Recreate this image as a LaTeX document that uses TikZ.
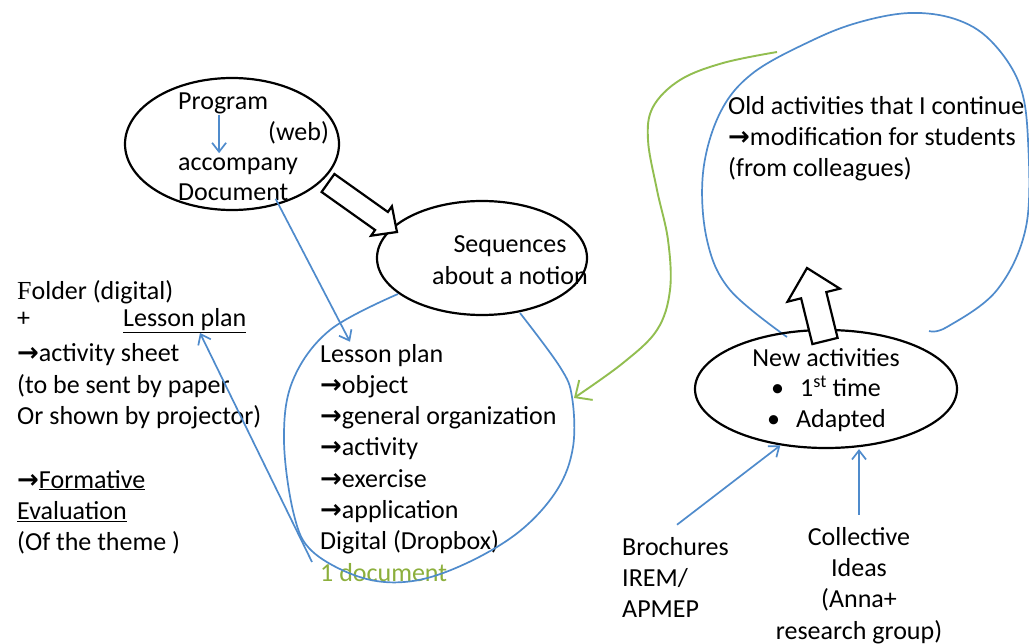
\documentclass[tikz,border=0pt]{standalone}
\usepackage{fontspec}
\setmainfont{Carlito}
\newfontfamily\arrowfont{DejaVu Sans}
\newfontfamily\serifletter{Liberation Serif}
\newfontfamily\bodyfont{Carlito}
\usetikzlibrary{shapes.geometric, arrows.meta, positioning}

\definecolor{penblue}{RGB}{79,139,204}
\definecolor{pengreen}{RGB}{146,190,80}
\definecolor{docgreen}{RGB}{140,175,60}
\newcommand{\ra}{{\arrowfont\bfseries →}}

\begin{document}
\begin{tikzpicture}[x=1pt, y=-1pt,
    font=\fontsize{26}{31.3}\selectfont,
    bubble/.style={ellipse, draw, line width=2.2pt, inner sep=0pt},
    txt/.style={anchor=base west, align=left, inner sep=0pt},
    ctxt/.style={anchor=base, align=center, inner sep=0pt},
    link/.style={penblue, line width=1.7pt, -{Straight Barb[length=9pt, width=14pt]}},
    pen/.style={penblue, line width=1.7pt},
    blockarrow/.style={draw, line width=2.2pt, fill=white, line join=miter}
]
    % canvas
    \fill[white] (0,0) rectangle (1029,644);
    \useasboundingbox (0,0) rectangle (1029,644);

    % Program bubble
    \node[bubble, minimum width=214pt, minimum height=132pt] (prog) at (232,144) {};
    \node[txt] (prgtxt) at (178,110) {Program};
    \node[txt] (web) at (268,141) {(web)};
    \node[txt] (accom) at (178,171) {accompany};
    \node[txt] (doc) at (178,201) {Document};
    \draw[link, shorten >=5pt] ([xshift=-4pt]prgtxt.south) -- ([xshift=-4pt]prgtxt.south |- accom.north);

    % Sequences bubble
    \node[bubble, minimum width=210pt, minimum height=114pt] (seq) at (482,258) {};
    \node[ctxt] (seqtxt) at (510,284.3) {Sequences\\about a notion};
    % block arrow program -> sequences
    \draw[blockarrow] (334.4,174.0) -- (387.9,212.0) -- (391.9,206.3) -- (397,232)
        -- (371.1,235.7) -- (375.1,230.0) -- (321.6,192.0) -- cycle;

    % Folder (left)
    \node[anchor=base west, inner sep=0pt] (folder) at (17,300) {\serifletter F\bodyfont older (digital)};
    \node[txt] (plus) at (17,327) {+};
    \node[txt] (lpleft) at (123,327) {\underline{Lesson plan}};
    \node[txt] (sheet) at (17,424.6) {\ra activity sheet\\(to be sent by paper\\Or shown by projector)};
    \node[txt] (formative) at (17,550.6) {\ra\underline{Formative}\\\underline{Evaluation}\\(Of the theme )};

    % Lesson plan (centre)
    \node[txt] (lpright) at (320,549.8) {Lesson plan\\\ra object\\\ra general organization\\\ra activity\\\ra exercise\\\ra application\\Digital (Dropbox)};
    \node[txt, text=docgreen] (onedoc) at (320,581) {1 document};

    % loop round the lesson plan
    \coordinate (loopA) at (398,294);
    \coordinate (loopB) at (520,313);
    \draw[pen] plot[smooth, tension=0.6] coordinates {(loopA) (330,330) (293,380) (284,440) (294,515) (313,552) (363,578) (413,581) (467,563) (520,531) (557,490) (573,447) (572,397) (560,367) (loopB)};

    % blue links on the left
    \draw[link] ([xshift=-13pt, yshift=-6pt]doc.east) -- ([xshift=30pt, yshift=2pt]lpright.north west);
    \coordinate (back) at (312,562);
    \draw[link] (back) -- ([xshift=77pt, yshift=-6pt]lpleft.base west);

    % Old activities
    \node[txt] (old) at (728,177) {Old activities that I continue\\\ra modification for students\\(from colleagues)};
    \coordinate (oldA) at (929,331);
    \coordinate (oldB) at (787,337);
    \draw[pen] plot[smooth, tension=0.6] coordinates {(oldA) (947,327) (997,290) (1026,227) (1028,140) (1019,83) (990,40) (955,19) (910,13) (860,22) (813,40) (753,73) (720,113) (703,173) (707,240) (730,290) (oldB)};

    % green return to the lesson plan
    \coordinate (greenA) at (777,52);
    \coordinate (greenB) at (574,398);
    \draw[pengreen, line width=1.9pt, -{Straight Barb[length=13pt, width=24pt]}] plot[smooth, tension=0.6] coordinates {(greenA) (723,63) (680,80) (653,107) (648,140) (657,190) (668,240) (670,290) (657,330) (623,363) (greenB)};

    % New activities bubble
    \node[bubble, minimum width=262pt, minimum height=118pt] (newact) at (826,389) {};
    \node[ctxt] (newtxt) at (826,367) {New activities};
    \node[txt] (first) at (771,397) {\textbullet\hspace{16pt}1\textsuperscript{st} time};
    \node[txt] (adapted) at (767,428) {\textbullet\hspace{16pt}Adapted};
    % block arrow new -> old
    \draw[blockarrow] (812.4,344.1) -- (801.1,298.3) -- (787.5,301.7) -- (807,268)
        -- (839.9,288.7) -- (826.3,292.1) -- (837.6,337.9) -- cycle;

    % sources
    \node[txt] (broch) at (622,617.6) {Brochures\\IREM/\\APMEP};
    \node[ctxt] (collect) at (859,639) {Collective\\Ideas\\(Anna+\\research group)};
    \draw[link] ([xshift=55pt, yshift=12pt]broch.north west) -- (newact.231);
    \draw[link] ([yshift=12pt]collect.north) -- (collect.north |- newact.south);
\end{tikzpicture}
\end{document}
